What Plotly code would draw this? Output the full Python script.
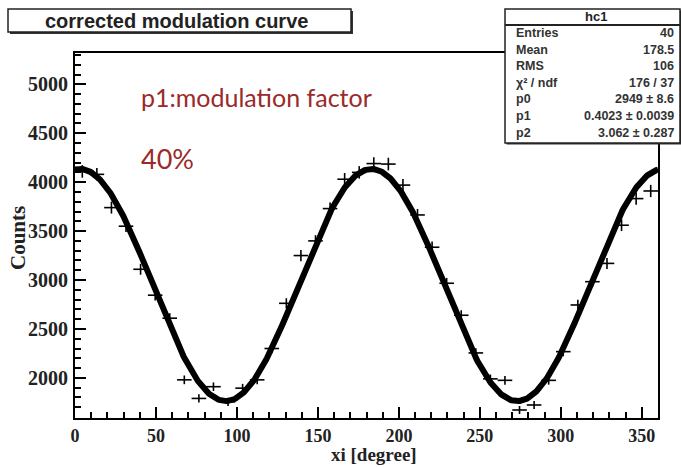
import numpy as np
import plotly.graph_objects as go

# ---- data ----
bin_centers = [4.5 + 9 * i for i in range(40)]
counts = [4110, 4080, 3740, 3550, 3110, 2845, 2610, 1980, 1790, 1910,
          1755, 1895, 1980, 2300, 2762, 3250, 3400, 3730, 4030, 4100,
          4190, 4185, 3970, 3665, 3335, 2967, 2640, 2255, 1990, 1975,
          1672, 1723, 1975, 2268, 2745, 2983, 3170, 3560, 3832, 3910]
bin_half_width = 4.5

# fit parameters (from stats box)
p0, p1, p2 = 2949, 0.4023, 3.062
stats_labels = ["Entries", "Mean", "RMS", "\u03c7\u00b2 / ndf", "p0", "p1", "p2"]
stats_values = ["40", "178.5", "106", "176 / 37", "2949 \u00b1 8.6",
                "0.4023 \u00b1 0.0039", "3.062 \u00b1 0.287"]

x_ticks = [0, 50, 100, 150, 200, 250, 300, 350]
y_ticks = [2000, 2500, 3000, 3500, 4000, 4500, 5000]

# ---- layout geometry ----
W, H = 681, 467
L, R, T, B = 75, 23, 53, 49
PW, PH = W - L - R, H - T - B

def px(x):
    return (x - L) / PW

def py(y):
    return (H - B - y) / PH

fit_x = np.linspace(0, 360, 721)
fit_y = p0 * (1 + p1 * np.cos(2 * np.deg2rad(fit_x - p2)))

fig = go.Figure()
fig.add_trace(go.Scatter(
    x=bin_centers, y=counts, mode="markers",
    marker=dict(size=1, color="black"),
    error_x=dict(type="constant", value=bin_half_width, width=0, thickness=1.6, color="black"),
    error_y=dict(type="data", array=list(np.sqrt(counts)), width=0, thickness=1.6, color="black"),
    showlegend=False, hoverinfo="skip"))
fig.add_trace(go.Scatter(
    x=fit_x, y=fit_y, mode="lines",
    line=dict(color="black", width=6),
    showlegend=False, hoverinfo="skip"))

ytick_font = dict(family="Liberation Serif", size=20, color="#222", weight="bold")
xtick_font = dict(family="Liberation Serif", size=18, color="#222", weight="bold")
title_font = dict(family="Liberation Serif", size=21, color="#222", weight="bold")
xtitle_font = dict(family="Liberation Serif", size=19, color="#222", weight="bold")

fig.update_layout(
    width=W, height=H,
    margin=dict(l=L, r=R, t=T, b=B, autoexpand=False),
    paper_bgcolor="white", plot_bgcolor="white",
    xaxis=dict(range=[0, 360], tickvals=x_ticks, ticks="inside", ticklen=11, tickwidth=2,
               tickcolor="black", showline=True, linecolor="black", linewidth=2, mirror=True,
               showgrid=False, zeroline=False, tickfont=xtick_font, ticklabelstandoff=0,
               automargin=False,
               minor=dict(ticks="inside", dtick=10, ticklen=6, tickwidth=1.5, tickcolor="black", showgrid=False)),
    yaxis=dict(range=[1590, 5320], tickvals=y_ticks, ticks="inside", ticklen=11, tickwidth=2,
               tickcolor="black", showline=True, linecolor="black", linewidth=2, mirror=True,
               showgrid=False, zeroline=False, tickfont=ytick_font, ticklabelstandoff=1,
               automargin=False,
               minor=dict(ticks="inside", dtick=100, ticklen=6, tickwidth=1.5, tickcolor="black", showgrid=False)),
)

shapes = []
annotations = []

# axis titles
annotations.append(dict(xref="paper", yref="paper", x=px(374), y=py(467), text="xi [degree]",
                        showarrow=False, xanchor="center", yanchor="bottom", font=xtitle_font))
annotations.append(dict(xref="paper", yref="paper", x=px(18), y=py(238), text="Counts", textangle=-90,
                        showarrow=False, xanchor="center", yanchor="middle", font=title_font))

def box(x0, y0, x1, y1, shadow=2):
    shapes.append(dict(type="rect", xref="paper", yref="paper",
                       x0=px(x0 + shadow), x1=px(x1 + shadow), y0=py(y1 + shadow), y1=py(y0 + shadow),
                       fillcolor="#333", line=dict(width=0), layer="above"))
    shapes.append(dict(type="rect", xref="paper", yref="paper",
                       x0=px(x0), x1=px(x1), y0=py(y1), y1=py(y0),
                       fillcolor="white", line=dict(color="#222", width=1.5), layer="above"))

# title box
box(8, 9, 351, 32)
annotations.append(dict(xref="paper", yref="paper", x=px(176), y=py(21), text="corrected modulation curve",
                        showarrow=False, xanchor="center", yanchor="middle",
                        font=dict(family="Liberation Sans", size=20, color="#222", weight="bold")))

# stats box
box(505, 9, 680, 143, shadow=1.5)
shapes.append(dict(type="line", xref="paper", yref="paper", x0=px(505), x1=px(680), y0=py(25), y1=py(25),
                   line=dict(color="#222", width=2), layer="above"))
annotations.append(dict(xref="paper", yref="paper", x=px(596), y=py(17), text="hc1", showarrow=False,
                        xanchor="center", yanchor="middle",
                        font=dict(family="Liberation Sans", size=13, color="#222", weight="bold")))
row_y = [33, 50, 66, 83, 99, 116, 133]
for lab, val, yy in zip(stats_labels, stats_values, row_y):
    annotations.append(dict(xref="paper", yref="paper", x=px(514), y=py(yy), text=lab, showarrow=False,
                            xanchor="left", yanchor="middle",
                            font=dict(family="Liberation Sans", size=12.5, color="#333", weight="bold")))
    annotations.append(dict(xref="paper", yref="paper", x=px(676), y=py(yy), text=val, showarrow=False,
                            xanchor="right", yanchor="middle",
                            font=dict(family="Liberation Sans", size=12.5, color="#333", weight="bold")))

# red annotations
annotations.append(dict(xref="paper", yref="paper", x=px(139), y=py(97), text="p1:modulation factor",
                        showarrow=False, xanchor="left", yanchor="middle",
                        font=dict(family="Lato", size=25, color="#9b2a2a")))
annotations.append(dict(xref="paper", yref="paper", x=px(139), y=py(158), text="40%",
                        showarrow=False, xanchor="left", yanchor="middle",
                        font=dict(family="Lato", size=27, color="#9b2a2a")))

fig.update_layout(shapes=shapes, annotations=annotations)
fig.write_html("out.html")
